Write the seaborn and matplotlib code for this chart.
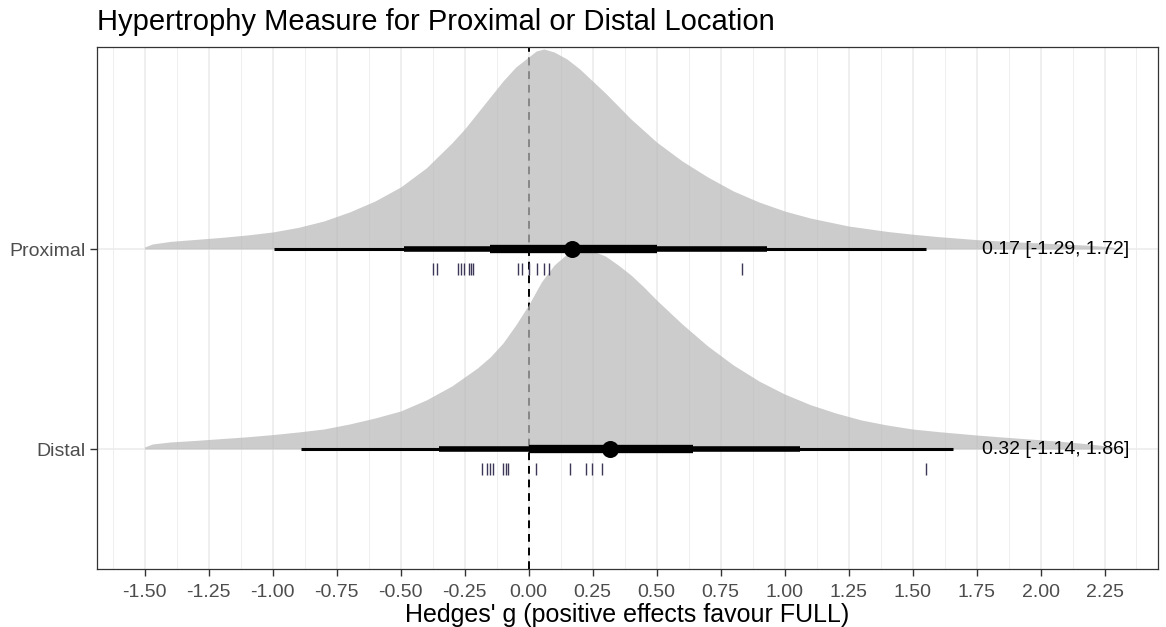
import numpy as np
import pandas as pd
import matplotlib
matplotlib.use("Agg")
import matplotlib.pyplot as plt
from matplotlib.ticker import MultipleLocator
import seaborn as sns

# ---- data -------------------------------------------------------------
locations = ["Distal", "Proximal"]
loc_pos = [1, 2]

# pooled estimate and prediction interval shown as text
estimate = [0.32, 0.17]
pred_lo = [-1.14, -1.29]
pred_hi = [1.86, 1.72]

# posterior intervals (95 %, 80 %, 50 %)
ci95_lo = [-0.89, -0.995]
ci95_hi = [1.658, 1.553]
ci80_lo = [-0.35, -0.487]
ci80_hi = [1.06, 0.931]
ci50_lo = [0.0, -0.151]
ci50_hi = [0.642, 0.502]

# posterior density (scaled so the mode is 1)
distal_x = [-1.5, -1.47, -1.4, -1.3, -1.2, -1.1, -1.0, -0.9, -0.8, -0.7,
            -0.6, -0.5, -0.4, -0.3, -0.2, -0.15, -0.1, -0.05, 0.0, 0.05,
            0.1, 0.15, 0.2, 0.25, 0.3, 0.35, 0.4, 0.45, 0.5, 0.6, 0.7, 0.8,
            0.9, 1.0, 1.1, 1.2, 1.3, 1.4, 1.5, 1.6, 1.75, 1.85, 2.0, 2.1,
            2.2, 2.28, 2.3]
distal_dens = [0.01, 0.025, 0.035, 0.043, 0.052, 0.061, 0.072, 0.085, 0.10, 0.125,
               0.155, 0.19, 0.245, 0.315, 0.405, 0.46, 0.53, 0.62, 0.72, 0.835,
               0.92, 0.975, 1.0, 0.99, 0.965, 0.92, 0.87, 0.81, 0.745, 0.625,
               0.515, 0.42, 0.34, 0.275, 0.222, 0.18, 0.145, 0.12, 0.10, 0.087,
               0.07, 0.06, 0.046, 0.036, 0.024, 0.012, 0.0]

proximal_x = [-1.5, -1.47, -1.4, -1.3, -1.2, -1.1, -1.0, -0.9, -0.8, -0.7,
              -0.6, -0.5, -0.4, -0.3, -0.25, -0.2, -0.15, -0.1, -0.05, 0.0,
              0.03, 0.06, 0.1, 0.15, 0.2, 0.25, 0.3, 0.35, 0.4, 0.5, 0.6, 0.7,
              0.8, 0.9, 1.0, 1.1, 1.25, 1.4, 1.5, 1.6, 1.75, 1.9, 2.0, 2.1,
              2.2, 2.28, 2.3]
proximal_dens = [0.01, 0.025, 0.038, 0.048, 0.058, 0.07, 0.085, 0.108, 0.14, 0.185,
                 0.24, 0.31, 0.405, 0.53, 0.60, 0.68, 0.76, 0.84, 0.91, 0.96,
                 0.99, 1.0, 0.985, 0.95, 0.90, 0.84, 0.78, 0.715, 0.65, 0.535,
                 0.44, 0.36, 0.29, 0.235, 0.19, 0.155, 0.115, 0.088, 0.074, 0.062,
                 0.047, 0.036, 0.03, 0.024, 0.018, 0.01, 0.0]

# individual study effects
distal_effects = [-0.180, -0.164, -0.151, -0.137, -0.100, -0.090, -0.079,
                  0.029, 0.163, 0.226, 0.246, 0.286, 1.553]
proximal_effects = [-0.375, -0.359, -0.277, -0.264, -0.254, -0.232, -0.225,
                    -0.216, -0.040, -0.025, 0.003, 0.032, 0.060, 0.081, 0.832]

x_ticks = [-1.5, -1.25, -1.0, -0.75, -0.5, -0.25, 0.0, 0.25, 0.5, 0.75,
           1.0, 1.25, 1.5, 1.75, 2.0, 2.25]

# ---- style ------------------------------------------------------------
sns.set_theme(style="white")
plt.rcParams["font.family"] = ["Liberation Sans", "DejaVu Sans"]

W, H = 1166, 627
fig = plt.figure(figsize=(W / 100, H / 100), dpi=100)
ax = fig.add_axes([97 / W, 1 - 569 / H, (1158 - 97) / W, (569 - 47) / H])

ax.set_xlim(-1.686, 2.459)
ax.set_ylim(0.4, 3.01)

# grid
ax.xaxis.set_major_locator(MultipleLocator(0.25))
ax.xaxis.set_minor_locator(MultipleLocator(0.125))
ax.set_axisbelow(True)
ax.grid(which="major", axis="both", color="#EBEBEB", lw=1.1, zorder=0)
ax.grid(which="minor", axis="x", color="#EBEBEB", lw=0.6, zorder=0)

# reference line at zero
ax.axvline(0, color="black", lw=1.4, ls=(0, (4, 3)), zorder=1)

dens_sets = {
    "Distal": (distal_x, distal_dens),
    "Proximal": (proximal_x, proximal_dens),
}
rug_sets = {"Distal": distal_effects, "Proximal": proximal_effects}

for i, name in enumerate(locations):
    y0 = loc_pos[i]
    dx, dy = dens_sets[name]
    dx = np.asarray(dx)
    dy = np.asarray(dy)
    ax.fill_between(dx, y0, y0 + dy, color="#B9B9B9", alpha=0.73, lw=0, zorder=2)

    # interval bars
    ax.hlines(y0, ci95_lo[i], ci95_hi[i], color="black", lw=2.2, zorder=3)
    ax.hlines(y0, ci80_lo[i], ci80_hi[i], color="black", lw=4.0, zorder=3)
    ax.hlines(y0, ci50_lo[i], ci50_hi[i], color="black", lw=6.0, zorder=3)

    # study-level effects as a rug beneath each density
    ax.vlines(rug_sets[name], y0 - 0.13, y0 - 0.07, color="#3d3656", lw=1.0, zorder=3)

    ax.text(2.06, y0, f"{estimate[i]:.2f} [{pred_lo[i]:.2f}, {pred_hi[i]:.2f}]",
            ha="center", va="center", fontsize=14, color="black", zorder=4)

pts = pd.DataFrame({"est": estimate, "pos": loc_pos})
sns.scatterplot(data=pts, x="est", y="pos", s=150, color="black",
                edgecolor="black", linewidth=0, ax=ax, zorder=5, legend=False)

ax.set_xticks(x_ticks)
ax.set_xticklabels([f"{t:.2f}" for t in x_ticks])
ax.set_yticks(loc_pos)
ax.set_yticklabels(locations)
ax.tick_params(axis="both", which="major", length=5, width=1.0, color="#333333",
               labelsize=14, labelcolor="#4D4D4D", pad=3, direction="out",
               bottom=True, left=True)
ax.tick_params(axis="x", which="major", pad=6)
ax.tick_params(axis="x", which="minor", length=0)

for sp in ax.spines.values():
    sp.set_color("#333333")
    sp.set_linewidth(0.9)
    sp.set_visible(True)

ax.set_xlabel("")
ax.set_ylabel("")

# axis title and plot title
fig.text((97 + 1158) / 2 / W, 1 - 622 / H, "Hedges' g (positive effects favour FULL)",
         ha="center", va="baseline", fontsize=18, color="black")
fig.text(97 / W, 1 - 22 / H, "Hypertrophy Measure for Proximal or Distal Location",
         ha="left", va="center", fontsize=21, color="black")

fig.savefig("out.png", dpi=100)
